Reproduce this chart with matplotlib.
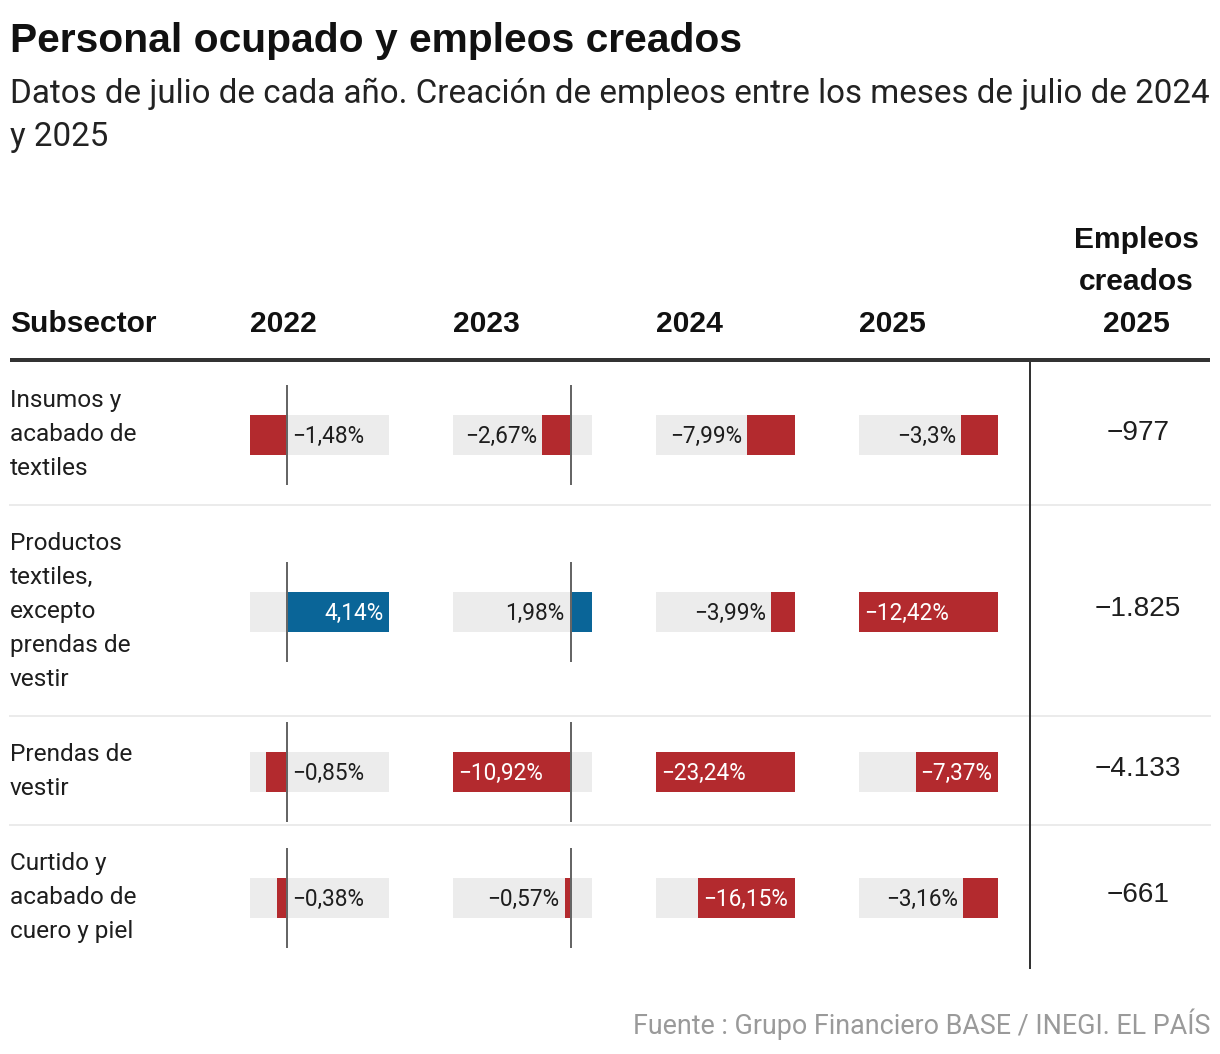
import matplotlib
matplotlib.use("Agg")
import matplotlib.pyplot as plt

# ---------------- data ----------------
subsectors = [
    ["Insumos y", "acabado de", "textiles"],
    ["Productos", "textiles,", "excepto", "prendas de", "vestir"],
    ["Prendas de", "vestir"],
    ["Curtido y", "acabado de", "cuero y piel"],
]
years = ["2022", "2023", "2024", "2025"]
v2022 = [-1.48, 4.14, -0.85, -0.38]
v2023 = [-2.67, 1.98, -10.92, -0.57]
v2024 = [-7.99, -3.99, -23.24, -16.15]
v2025 = [-3.3, -12.42, -7.37, -3.16]
empleos_2025 = [-977, -1825, -4133, -661]

title = "Personal ocupado y empleos creados"
subtitle = ["Datos de julio de cada año. Creación de empleos entre los meses de julio de 2024",
            "y 2025"]
header_first = "Subsector"
header_last = ["Empleos", "creados", "2025"]
source = "Fuente : Grupo Financiero BASE / INEGI. EL PAÍS"

columns = [v2022, v2023, v2024, v2025]

# ---------------- style ----------------
W, H = 1220, 1054
PT = 0.72  # px -> pt at dpi 100
NARROW = ["Roboto", "DejaVu Sans"]
BOLD = ["Liberation Sans", "DejaVu Sans"]
REG = ["Liberation Sans", "DejaVu Sans"]
RED = "#b32a2e"
BLUE = "#0a6598"
BG = "#ececec"
DARK = "#1e1e1e"

fig = plt.figure(figsize=(W / 100, H / 100), dpi=100)
ov = fig.add_axes([0, 0, 1, 1])
ov.set_xlim(0, W)
ov.set_ylim(H, 0)
ov.axis("off")
renderer = fig.canvas.get_renderer()


def fit(s, target_px, **kw):
    t = ov.text(0, 0, s, fontsize=10, **kw)
    w = t.get_window_extent(renderer).width
    t.remove()
    return 10 * target_px / w


# title & subtitle
fs_title = fit(title, 730, family=BOLD, weight="bold")
ov.text(10, 52, title, family=BOLD, weight="bold", fontsize=fs_title, color="#111111", va="baseline")
fs_sub = fit(subtitle[0], 1198, family=NARROW)
for k, line in enumerate(subtitle):
    ov.text(10, 103 + 43 * k, line, family=NARROW, fontsize=fs_sub, color="#222222", va="baseline")

# header
col_x = [250, 453, 656, 859]
cell_w = 139
ov.text(10, 332, header_first, family=BOLD, weight="bold", fontsize=30 * PT, color="#111111", va="baseline")
for x, y in zip(col_x, years):
    ov.text(x, 332, y, family=BOLD, weight="bold", fontsize=30 * PT, color="#111111", va="baseline")
for k, line in enumerate(header_last):
    ov.text(1136, 248 + 42 * k, line, family=BOLD, weight="bold", fontsize=30 * PT,
            color="#111111", va="baseline", ha="center")

ov.plot([10, 1210], [360, 360], color="#333333", lw=4 * PT, solid_capstyle="butt")

# rows layout
tops = []
y = 362
for lab in subsectors:
    tops.append(y)
    y += 34 * len(lab) + 41
bottom = y

for i in range(1, len(subsectors)):
    ov.plot([10, 1210], [tops[i], tops[i]], color="#ebebeb", lw=2 * PT, zorder=1)
ov.plot([1030, 1030], [362, bottom], color="#333333", lw=2 * PT, zorder=2)


def fmt_pct(v):
    s = f"{abs(v):g}".replace(".", ",") + "%"
    return ("\u2212" if v < 0 else "") + s


def fmt_int(v):
    s = f"{abs(v):,}".replace(",", ".")
    return ("\u2212" if v < 0 else "") + s


fs_lab = fit("acabado de", 126, family=NARROW)
fs_val = fit("\u22121,48%", 72, family=NARROW)

for i, lab in enumerate(subsectors):
    top = tops[i]
    h = 34 * len(lab) + 41
    cy = top + h / 2 + 1
    for k, line in enumerate(lab):
        ov.text(10, top + 45 + 34 * k, line, family=NARROW, fontsize=fs_lab, color=DARK, va="baseline")
    ov.text(1138, cy - 2, fmt_int(empleos_2025[i]), family=REG, fontsize=28 * PT, color=DARK,
            ha="center", va="center")

    for j, vals in enumerate(columns):
        lo, hi = min(min(vals), 0), max(max(vals), 0)
        v = vals[i]
        ax = fig.add_axes([col_x[j] / W, 1 - (cy + 50) / H, cell_w / W, 100 / H])
        ax.set_xlim(lo, hi)
        ax.set_ylim(-0.5, 0.5)
        ax.axis("off")
        ax.barh(0, hi - lo, left=lo, height=0.4, color=BG, lw=0)
        ax.barh(0, v, left=0, height=0.4, color=BLUE if v > 0 else RED, lw=0)
        if lo < 0 < hi:
            ax.axvline(0, color="#666666", lw=2 * PT, zorder=5)

        s = fmt_pct(v)
        kw = dict(family=NARROW, fontsize=fs_val, va="center")
        t = ax.text(0, 0, s, **kw)
        tw = t.get_window_extent(renderer).width
        t.remove()
        ppu = cell_w / (hi - lo)
        bar_px = abs(v) * ppu
        sign = 1 if v > 0 else -1
        pad = 5
        if bar_px >= tw + 8:
            x, dx, ha, col = v, -sign * pad, ("left" if v < 0 else "right"), "white"
        else:
            room = (v - lo) * ppu if v < 0 else (hi - v) * ppu
            col = DARK
            if room >= tw + 2 * pad:
                x, dx, ha = v, sign * pad, ("right" if v < 0 else "left")
            else:
                x, dx, ha = 0, -sign * (pad + 1), ("left" if v < 0 else "right")
        ax.annotate(s, xy=(x, 0), xytext=(dx, -1.5), textcoords="offset pixels", ha=ha,
                    color=col, zorder=6, **kw)

fs_src = fit(source, 578, family=NARROW)
ov.text(1210, 1034, source, family=NARROW, fontsize=fs_src, color="#9a9a9a", ha="right", va="baseline")

fig.savefig("out.png", dpi=100)
